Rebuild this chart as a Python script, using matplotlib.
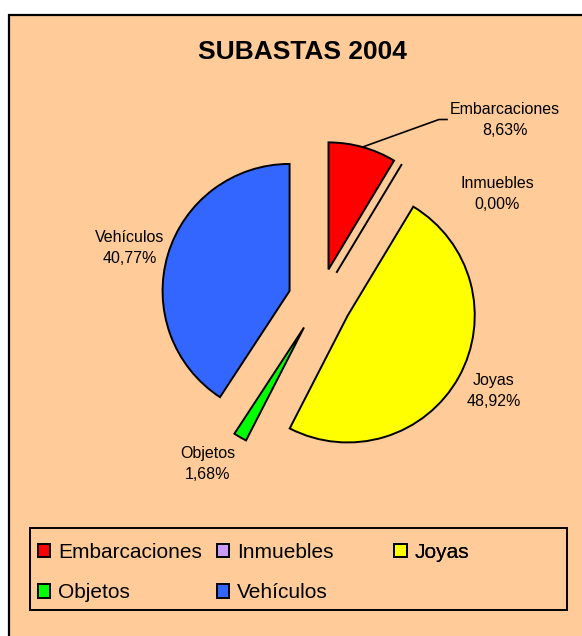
#!/usr/bin/env python3

"""
Subastas 2004 - exploded pie chart (Excel style)

Output
------
out.png
"""

import numpy as np
import matplotlib.pyplot as plt

from matplotlib.patches import Rectangle

# ============================================================
# Data
# ============================================================

categories = [
    "Embarcaciones",
    "Inmuebles",
    "Joyas",
    "Objetos",
    "Vehículos",
]

shares = [8.63, 0.00, 48.92, 1.68, 40.77]

share_labels = ["8,63%", "0,00%", "48,92%", "1,68%", "40,77%"]

colors = ["#FF0000", "#CC99FF", "#FFFF00", "#00FF00", "#3366FF"]

title = "SUBASTAS 2004"

# ============================================================
# Layout (pixel coordinates, y down)
# ============================================================

W, H = 582, 636

PIE_CENTER = (320, 300)
PIE_RADIUS = 127
EXPLODE = 0.25          # fraction of the radius

# label centres, pixel coords
label_pos = [
    (505, 120),
    (497, 194),
    (494, 391),
    (208, 464),
    (130, 248),
]

LEGEND_BOX = (29.5, 527.5, 537, 82)
LEGEND_COLUMNS = [
    (37.5, [0, 3]),
    (216.5, [1, 4]),
    (394.0, [2]),
]

BG = "#FFCC99"
FONT = ["Liberation Sans", "DejaVu Sans"]


# ============================================================
# Plot
# ============================================================

def make_chart(output_file):

    plt.rcParams["font.family"] = FONT

    fig = plt.figure(figsize=(W / 100, H / 100), dpi=100)
    fig.patch.set_facecolor("white")

    ax = fig.add_axes([0, 0, 1, 1])

    # chart area (right / bottom edges run off the image)
    ax.add_patch(
        Rectangle(
            (9, 15), 700, 700,
            facecolor=BG,
            edgecolor="black",
            linewidth=1.6,
            zorder=0
        )
    )

    ax.text(
        302, 52, title,
        ha="center", va="center",
        fontsize=19, fontweight="bold"
    )

    # y axis is inverted: start at -90 and go "counterclock" in data
    # space, which shows as clockwise from 12 o'clock on screen.
    # pie() takes explode in data units, so scale by the radius
    wedges, _ = ax.pie(
        shares,
        colors=colors,
        explode=[EXPLODE * PIE_RADIUS] * len(shares),
        startangle=-90,
        counterclock=True,
        radius=PIE_RADIUS,
        center=PIE_CENTER,
        normalize=True,
        wedgeprops=dict(edgecolor="black", linewidth=1.4),
        frame=True
    )
    ax.set_xlim(0, W)
    ax.set_ylim(H, 0)
    ax.set_aspect("equal")
    ax.axis("off")

    for cat, pct, (x, y) in zip(categories, share_labels, label_pos):
        ax.text(
            x, y, f"{cat}\n{pct}",
            ha="center", va="center",
            multialignment="center",
            fontsize=11.5,
            linespacing=1.45
        )

    # leader line for Embarcaciones
    w = wedges[0]
    mid = np.deg2rad((w.theta1 + w.theta2) / 2)
    x0 = w.center[0] + w.r * np.cos(mid)
    y0 = w.center[1] + w.r * np.sin(mid)
    ax.plot(
        [x0, 439, 447],
        [y0, 119.5, 119.5],
        color="black",
        linewidth=1.2
    )

    # legend frame
    lx, ly, lw, lh = LEGEND_BOX
    ax.add_patch(
        Rectangle(
            (lx, ly), lw, lh,
            facecolor="none",
            edgecolor="black",
            linewidth=1.4,
            zorder=3
        )
    )

    for x, idx in LEGEND_COLUMNS:
        leg = ax.legend(
            [wedges[i] for i in idx],
            [categories[i] for i in idx],
            loc="upper left",
            bbox_to_anchor=(x, 543),
            bbox_transform=ax.transData,
            frameon=False,
            fontsize=15,
            handlelength=0.62,
            handleheight=0.62,
            handletextpad=0.37,
            labelspacing=1.02,
            borderpad=0,
            borderaxespad=0
        )
        ax.add_artist(leg)

    fig.savefig(output_file, dpi=100)
    plt.close(fig)


if __name__ == "__main__":
    make_chart("out.png")
